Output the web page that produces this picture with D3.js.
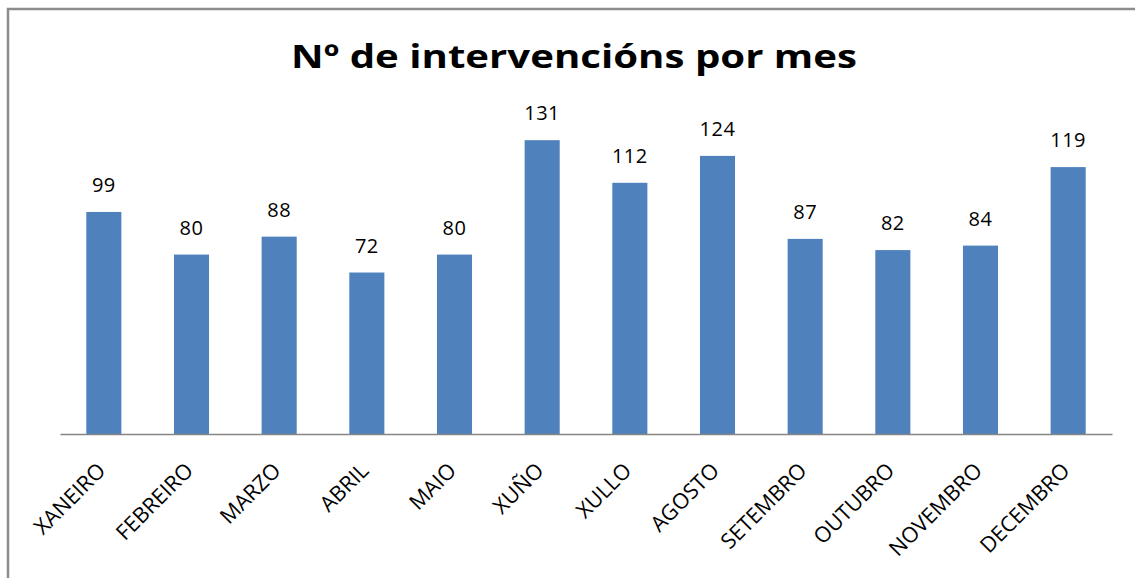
<!DOCTYPE html>
<html>
<head>
<meta charset="utf-8">
<script src="https://cdn.jsdelivr.net/npm/d3@7"></script>
<style>
  body { margin: 0; background: #fff; }
  svg text { font-family: "Open Sans", "DejaVu Sans", sans-serif; fill: #000; }
</style>
</head>
<body>
<svg id="chart" width="1135" height="578"></svg>
<script>
// months and number of interventions
var months = ["XANEIRO", "FEBREIRO", "MARZO", "ABRIL", "MAIO", "XUÑO",
              "XULLO", "AGOSTO", "SETEMBRO", "OUTUBRO", "NOVEMBRO", "DECEMBRO"];
var interventions = [99, 80, 88, 72, 80, 131, 112, 124, 87, 82, 84, 119];
var chartTitle = "Nº de intervencións por mes";

var svg = d3.select("#chart");

// outer frame (runs off the right and bottom edge)
svg.append("rect")
  .attr("x", 8).attr("y", 9)
  .attr("width", 1140).attr("height", 580)
  .attr("fill", "none")
  .attr("stroke", "#8c8c8c")
  .attr("stroke-width", 2.5);

svg.append("text")
  .attr("x", 574).attr("y", 68)
  .attr("text-anchor", "middle")
  .attr("textLength", 566)
  .attr("lengthAdjust", "spacingAndGlyphs")
  .style("font-size", "33px")
  .style("font-weight", "bold")
  .text(chartTitle);

var x = d3.scaleBand()
  .domain(months)
  .range([60, 1112])
  .paddingInner(0.6)
  .paddingOuter(0.3);

var y = d3.scaleLinear()
  .domain([0, 140])
  .range([434, 120]);

svg.selectAll(".bar")
  .data(months)
  .enter().append("rect")
  .attr("class", "bar")
  .attr("x", function(d) { return x(d); })
  .attr("width", x.bandwidth())
  .attr("y", function(d, i) { return y(interventions[i]); })
  .attr("height", function(d, i) { return y(0) - y(interventions[i]); })
  .attr("fill", "#4f81bd");

svg.selectAll(".val")
  .data(months)
  .enter().append("text")
  .attr("class", "val")
  .attr("x", function(d) { return x(d) + x.bandwidth() / 2; })
  .attr("y", function(d, i) { return y(interventions[i]) - 20; })
  .attr("text-anchor", "middle")
  .style("font-size", "20px")
  .style("letter-spacing", "0.5px")
  .text(function(d, i) { return interventions[i]; });

// x axis: line only, rotated labels
var xAxis = svg.append("g")
  .attr("transform", "translate(0,434)")
  .call(d3.axisBottom(x).tickSize(0).tickSizeOuter(0));

xAxis.select(".domain")
  .attr("stroke", "#868686")
  .attr("stroke-width", 1.5);

xAxis.selectAll("text")
  .style("font-size", "21.5px")
  .style("font-family", "'Open Sans', sans-serif")
  .attr("fill", "#000")
  .attr("text-anchor", "end")
  .attr("dy", null)
  .attr("y", 0)
  .attr("transform", "translate(3,38) rotate(-45)");
</script>
</body>
</html>
